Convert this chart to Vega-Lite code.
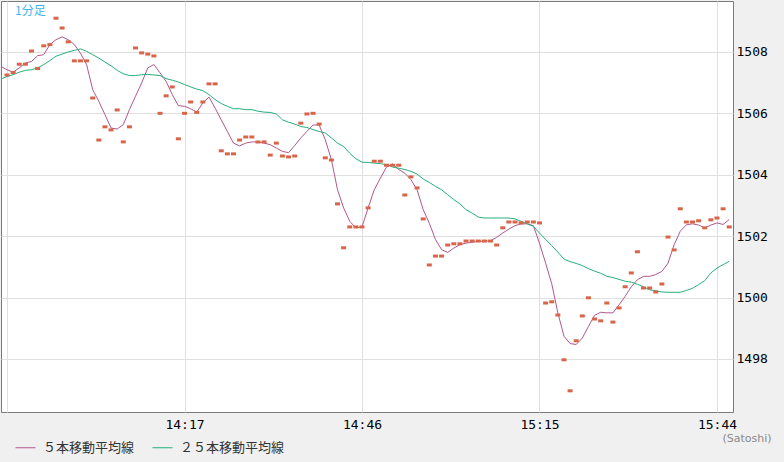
{
  "$schema": "https://vega.github.io/schema/vega-lite/v6.json",
  "width": 732,
  "height": 411,
  "autosize": "none",
  "padding": {"left": 1, "top": 1, "right": 51, "bottom": 50},
  "background": "#f0f0f0",
  "config": {
    "view": {"fill": "white", "stroke": "#7a7a7a", "strokeWidth": 1}
  },
  "title": {
    "text": "1分足",
    "anchor": "start",
    "frame": "group",
    "orient": "top",
    "offset": -17,
    "baseline": "top",
    "dx": 14,
    "font": "Noto Sans CJK JP",
    "fontSize": 12,
    "fontWeight": "normal",
    "color": "#3fb4ec"
  },
  "data": {"values": [
    {"t":"2024-01-01T13:47","price":null,"ma5":1507.53,"ma25":1507.12},
    {"t":"2024-01-01T13:48","price":1507.25,"ma5":1507.42,"ma25":1507.2},
    {"t":"2024-01-01T13:49","price":1507.33,"ma5":1507.34,"ma25":1507.26},
    {"t":"2024-01-01T13:50","price":1507.6,"ma5":1507.48,"ma25":1507.34},
    {"t":"2024-01-01T13:51","price":1507.6,"ma5":1507.64,"ma25":1507.4},
    {"t":"2024-01-01T13:52","price":1508.03,"ma5":1507.69,"ma25":1507.42},
    {"t":"2024-01-01T13:53","price":1507.46,"ma5":1507.88,"ma25":1507.48},
    {"t":"2024-01-01T13:54","price":1508.2,"ma5":1507.91,"ma25":1507.59},
    {"t":"2024-01-01T13:55","price":1508.24,"ma5":1508.24,"ma25":1507.72},
    {"t":"2024-01-01T13:56","price":1509.1,"ma5":1508.4,"ma25":1507.86},
    {"t":"2024-01-01T13:57","price":1508.78,"ma5":1508.49,"ma25":1507.93},
    {"t":"2024-01-01T13:58","price":1508.33,"ma5":1508.4,"ma25":1508.0},
    {"t":"2024-01-01T13:59","price":1507.71,"ma5":1508.24,"ma25":1508.05},
    {"t":"2024-01-01T14:00","price":1507.71,"ma5":1507.96,"ma25":1508.1},
    {"t":"2024-01-01T14:01","price":1507.71,"ma5":1507.59,"ma25":1508.02},
    {"t":"2024-01-01T14:02","price":1506.5,"ma5":1506.77,"ma25":1507.91},
    {"t":"2024-01-01T14:03","price":1505.13,"ma5":1506.39,"ma25":1507.8},
    {"t":"2024-01-01T14:04","price":1505.56,"ma5":1505.96,"ma25":1507.67},
    {"t":"2024-01-01T14:05","price":1505.46,"ma5":1505.52,"ma25":1507.55},
    {"t":"2024-01-01T14:06","price":1506.11,"ma5":1505.49,"ma25":1507.4},
    {"t":"2024-01-01T14:07","price":1505.07,"ma5":1505.63,"ma25":1507.29},
    {"t":"2024-01-01T14:08","price":1505.56,"ma5":1506.12,"ma25":1507.23},
    {"t":"2024-01-01T14:09","price":1508.13,"ma5":1506.56,"ma25":1507.23},
    {"t":"2024-01-01T14:10","price":1507.97,"ma5":1506.99,"ma25":1507.26},
    {"t":"2024-01-01T14:11","price":1507.93,"ma5":1507.48,"ma25":1507.27},
    {"t":"2024-01-01T14:12","price":1507.87,"ma5":1507.59,"ma25":1507.25},
    {"t":"2024-01-01T14:13","price":1506.0,"ma5":1507.32,"ma25":1507.23},
    {"t":"2024-01-01T14:14","price":1506.57,"ma5":1507.04,"ma25":1507.13},
    {"t":"2024-01-01T14:15","price":1506.86,"ma5":1506.61,"ma25":1507.08},
    {"t":"2024-01-01T14:16","price":1505.17,"ma5":1506.25,"ma25":1507.02},
    {"t":"2024-01-01T14:17","price":1506.0,"ma5":1506.23,"ma25":1506.94},
    {"t":"2024-01-01T14:18","price":1506.37,"ma5":1506.15,"ma25":1506.86},
    {"t":"2024-01-01T14:19","price":1506.03,"ma5":1506.04,"ma25":1506.79},
    {"t":"2024-01-01T14:20","price":1506.37,"ma5":1506.34,"ma25":1506.74},
    {"t":"2024-01-01T14:21","price":1506.96,"ma5":1506.53,"ma25":1506.61},
    {"t":"2024-01-01T14:22","price":1506.96,"ma5":1506.17,"ma25":1506.45},
    {"t":"2024-01-01T14:23","price":1504.78,"ma5":1505.79,"ma25":1506.32},
    {"t":"2024-01-01T14:24","price":1504.68,"ma5":1505.41,"ma25":1506.23},
    {"t":"2024-01-01T14:25","price":1504.68,"ma5":1505.03,"ma25":1506.15},
    {"t":"2024-01-01T14:26","price":1505.13,"ma5":1504.94,"ma25":1506.15},
    {"t":"2024-01-01T14:27","price":1505.23,"ma5":1505.03,"ma25":1506.12},
    {"t":"2024-01-01T14:28","price":1505.23,"ma5":1505.07,"ma25":1506.12},
    {"t":"2024-01-01T14:29","price":1505.07,"ma5":1505.07,"ma25":1506.07},
    {"t":"2024-01-01T14:30","price":1505.07,"ma5":1505.03,"ma25":1506.04},
    {"t":"2024-01-01T14:31","price":1504.64,"ma5":1504.98,"ma25":1506.03},
    {"t":"2024-01-01T14:32","price":1505.03,"ma5":1504.87,"ma25":1505.98},
    {"t":"2024-01-01T14:33","price":1504.61,"ma5":1504.76,"ma25":1505.79},
    {"t":"2024-01-01T14:34","price":1504.58,"ma5":1504.72,"ma25":1505.71},
    {"t":"2024-01-01T14:35","price":1504.61,"ma5":1504.95,"ma25":1505.65},
    {"t":"2024-01-01T14:36","price":1505.68,"ma5":1505.2,"ma25":1505.57},
    {"t":"2024-01-01T14:37","price":1505.98,"ma5":1505.41,"ma25":1505.54},
    {"t":"2024-01-01T14:38","price":1506.0,"ma5":1505.62,"ma25":1505.47},
    {"t":"2024-01-01T14:39","price":1505.65,"ma5":1505.62,"ma25":1505.41},
    {"t":"2024-01-01T14:40","price":1504.55,"ma5":1505.14,"ma25":1505.36},
    {"t":"2024-01-01T14:41","price":1504.48,"ma5":1504.49,"ma25":1505.2},
    {"t":"2024-01-01T14:42","price":1503.05,"ma5":1503.51,"ma25":1505.03},
    {"t":"2024-01-01T14:43","price":1501.62,"ma5":1502.92,"ma25":1504.92},
    {"t":"2024-01-01T14:44","price":1502.3,"ma5":1502.48,"ma25":1504.7},
    {"t":"2024-01-01T14:45","price":1502.3,"ma5":1502.27,"ma25":1504.52},
    {"t":"2024-01-01T14:46","price":1502.3,"ma5":1502.3,"ma25":1504.41},
    {"t":"2024-01-01T14:47","price":1502.92,"ma5":1502.92,"ma25":1504.4},
    {"t":"2024-01-01T14:48","price":1504.44,"ma5":1503.51,"ma25":1504.38},
    {"t":"2024-01-01T14:49","price":1504.44,"ma5":1503.89,"ma25":1504.36},
    {"t":"2024-01-01T14:50","price":1504.31,"ma5":1504.25,"ma25":1504.33},
    {"t":"2024-01-01T14:51","price":1504.31,"ma5":1504.35,"ma25":1504.25},
    {"t":"2024-01-01T14:52","price":1504.31,"ma5":1504.17,"ma25":1504.21},
    {"t":"2024-01-01T14:53","price":1503.34,"ma5":1504.05,"ma25":1504.17},
    {"t":"2024-01-01T14:54","price":1503.93,"ma5":1503.84,"ma25":1504.11},
    {"t":"2024-01-01T14:55","price":1503.57,"ma5":1503.51,"ma25":1504.02},
    {"t":"2024-01-01T14:56","price":1502.56,"ma5":1502.86,"ma25":1503.86},
    {"t":"2024-01-01T14:57","price":1501.06,"ma5":1502.42,"ma25":1503.75},
    {"t":"2024-01-01T14:58","price":1501.35,"ma5":1501.89,"ma25":1503.62},
    {"t":"2024-01-01T14:59","price":1501.35,"ma5":1501.56,"ma25":1503.51},
    {"t":"2024-01-01T15:00","price":1501.71,"ma5":1501.47,"ma25":1503.35},
    {"t":"2024-01-01T15:01","price":1501.75,"ma5":1501.61,"ma25":1503.19},
    {"t":"2024-01-01T15:02","price":1501.75,"ma5":1501.72,"ma25":1503.05},
    {"t":"2024-01-01T15:03","price":1501.84,"ma5":1501.77,"ma25":1502.86},
    {"t":"2024-01-01T15:04","price":1501.84,"ma5":1501.8,"ma25":1502.75},
    {"t":"2024-01-01T15:05","price":1501.84,"ma5":1501.83,"ma25":1502.62},
    {"t":"2024-01-01T15:06","price":1501.84,"ma5":1501.83,"ma25":1502.59},
    {"t":"2024-01-01T15:07","price":1501.84,"ma5":1501.85,"ma25":1502.59},
    {"t":"2024-01-01T15:08","price":1501.71,"ma5":1501.96,"ma25":1502.59},
    {"t":"2024-01-01T15:09","price":1502.27,"ma5":1502.1,"ma25":1502.59},
    {"t":"2024-01-01T15:10","price":1502.46,"ma5":1502.23,"ma25":1502.59},
    {"t":"2024-01-01T15:11","price":1502.46,"ma5":1502.34,"ma25":1502.56},
    {"t":"2024-01-01T15:12","price":1502.43,"ma5":1502.4,"ma25":1502.48},
    {"t":"2024-01-01T15:13","price":1502.46,"ma5":1502.4,"ma25":1502.4},
    {"t":"2024-01-01T15:14","price":1502.46,"ma5":1502.34,"ma25":1502.32},
    {"t":"2024-01-01T15:15","price":1502.43,"ma5":1501.77,"ma25":1502.1},
    {"t":"2024-01-01T15:16","price":1499.82,"ma5":1501.12,"ma25":1501.89},
    {"t":"2024-01-01T15:17","price":1499.86,"ma5":1500.45,"ma25":1501.69},
    {"t":"2024-01-01T15:18","price":1499.43,"ma5":1499.5,"ma25":1501.48},
    {"t":"2024-01-01T15:19","price":1497.97,"ma5":1498.74,"ma25":1501.25},
    {"t":"2024-01-01T15:20","price":1496.96,"ma5":1498.5,"ma25":1501.17},
    {"t":"2024-01-01T15:21","price":1498.59,"ma5":1498.47,"ma25":1501.11},
    {"t":"2024-01-01T15:22","price":1499.4,"ma5":1498.68,"ma25":1501.04},
    {"t":"2024-01-01T15:23","price":1499.99,"ma5":1499.06,"ma25":1500.94},
    {"t":"2024-01-01T15:24","price":1499.3,"ma5":1499.42,"ma25":1500.86},
    {"t":"2024-01-01T15:25","price":1499.24,"ma5":1499.52,"ma25":1500.79},
    {"t":"2024-01-01T15:26","price":1499.82,"ma5":1499.5,"ma25":1500.69},
    {"t":"2024-01-01T15:27","price":1499.2,"ma5":1499.5,"ma25":1500.65},
    {"t":"2024-01-01T15:28","price":1499.66,"ma5":1499.76,"ma25":1500.59},
    {"t":"2024-01-01T15:29","price":1500.35,"ma5":1500.04,"ma25":1500.53},
    {"t":"2024-01-01T15:30","price":1500.8,"ma5":1500.35,"ma25":1500.5},
    {"t":"2024-01-01T15:31","price":1501.49,"ma5":1500.58,"ma25":1500.43},
    {"t":"2024-01-01T15:32","price":1500.31,"ma5":1500.69,"ma25":1500.35},
    {"t":"2024-01-01T15:33","price":1500.31,"ma5":1500.69,"ma25":1500.25},
    {"t":"2024-01-01T15:34","price":1500.18,"ma5":1500.75,"ma25":1500.22},
    {"t":"2024-01-01T15:35","price":1500.44,"ma5":1500.85,"ma25":1500.18},
    {"t":"2024-01-01T15:36","price":1501.97,"ma5":1501.12,"ma25":1500.17},
    {"t":"2024-01-01T15:37","price":1501.55,"ma5":1501.72,"ma25":1500.17},
    {"t":"2024-01-01T15:38","price":1502.89,"ma5":1502.16,"ma25":1500.17},
    {"t":"2024-01-01T15:39","price":1502.46,"ma5":1502.37,"ma25":1500.23},
    {"t":"2024-01-01T15:40","price":1502.46,"ma5":1502.4,"ma25":1500.3},
    {"t":"2024-01-01T15:41","price":1502.5,"ma5":1502.36,"ma25":1500.42},
    {"t":"2024-01-01T15:42","price":1502.27,"ma5":1502.27,"ma25":1500.55},
    {"t":"2024-01-01T15:43","price":1502.53,"ma5":1502.36,"ma25":1500.8},
    {"t":"2024-01-01T15:44","price":1502.59,"ma5":1502.43,"ma25":1500.96},
    {"t":"2024-01-01T15:45","price":1502.89,"ma5":1502.38,"ma25":1501.07},
    {"t":"2024-01-01T15:46","price":1502.3,"ma5":1502.54,"ma25":1501.18}
  ]},
  "transform": [{"fold": ["price", "ma5", "ma25"], "as": ["series", "value"]}],
  "encoding": {
    "x": {
      "field": "t",
      "type": "temporal",
      "scale": {"domain": [
        {"year": 2024, "month": 1, "date": 1, "hours": 13, "minutes": 47, "seconds": 1},
        {"year": 2024, "month": 1, "date": 1, "hours": 15, "minutes": 46, "seconds": 37}
      ], "nice": false},
      "axis": {
        "values": [
          {"year": 2024, "month": 1, "date": 1, "hours": 13, "minutes": 48},
          {"year": 2024, "month": 1, "date": 1, "hours": 14, "minutes": 17},
          {"year": 2024, "month": 1, "date": 1, "hours": 14, "minutes": 46},
          {"year": 2024, "month": 1, "date": 1, "hours": 15, "minutes": 15},
          {"year": 2024, "month": 1, "date": 1, "hours": 15, "minutes": 44}
        ],
        "format": "%H:%M",
        "labelExpr": "datum.label == '13:48' ? '' : datum.label",
        "ticks": false,
        "domain": false,
        "grid": true,
        "gridColor": "#e0e0e0",
        "gridWidth": 1,
        "labelFont": "DejaVu Sans Mono",
        "labelFontSize": 13,
        "labelColor": "#000000",
        "labelPadding": 6,
        "labelFlush": false,
        "labelOverlap": false,
        "title": "(Satoshi)",
        "titleFont": "DejaVu Sans",
        "titleFontSize": 11,
        "titleFontWeight": "normal",
        "titleColor": "#8a8a8a",
        "titleX": 770,
        "titleY": 26,
        "titleAlign": "right",
        "titleBaseline": "middle",
        "titleAnchor": null
      }
    },
    "y": {
      "field": "value",
      "type": "quantitative",
      "scale": {"domain": [1496.27, 1509.66], "nice": false, "zero": false},
      "axis": {
        "orient": "right",
        "values": [1498, 1500, 1502, 1504, 1506, 1508],
        "format": "d",
        "ticks": false,
        "domain": false,
        "grid": true,
        "gridColor": "#e0e0e0",
        "gridWidth": 1,
        "labelFont": "DejaVu Sans Mono",
        "labelFontSize": 13,
        "labelColor": "#000000",
        "labelPadding": 3,
        "title": null
      }
    }
  },
  "layer": [
    {
      "transform": [{"filter": "datum.series != 'price'"}],
      "mark": {"type": "line", "strokeWidth": 1, "clip": true},
      "encoding": {
        "color": {
          "field": "series",
          "type": "nominal",
          "scale": {"domain": ["ma5", "ma25"], "range": ["#b0588c", "#25b07a"]},
          "legend": {
            "orient": "none",
            "legendX": 14,
            "legendY": 436,
            "direction": "horizontal",
            "title": null,
            "padding": 0,
            "symbolType": "stroke",
            "symbolSize": 400,
            "symbolStrokeWidth": 1,
            "labelFont": "Noto Sans CJK JP",
            "labelFontSize": 13,
            "labelColor": "#333333",
            "labelOffset": 7,
            "columnPadding": 15,
            "labelExpr": "datum.label == 'ma5' ? '５本移動平均線' : '２５本移動平均線'"
          }
        }
      }
    },
    {
      "transform": [{"filter": "datum.series == 'price' && datum.value != null"}],
      "mark": {"type": "tick", "orient": "horizontal", "size": 5, "thickness": 3, "color": "#d8654a", "opacity": 1, "clip": true},
      "encoding": {}
    }
  ]
}
